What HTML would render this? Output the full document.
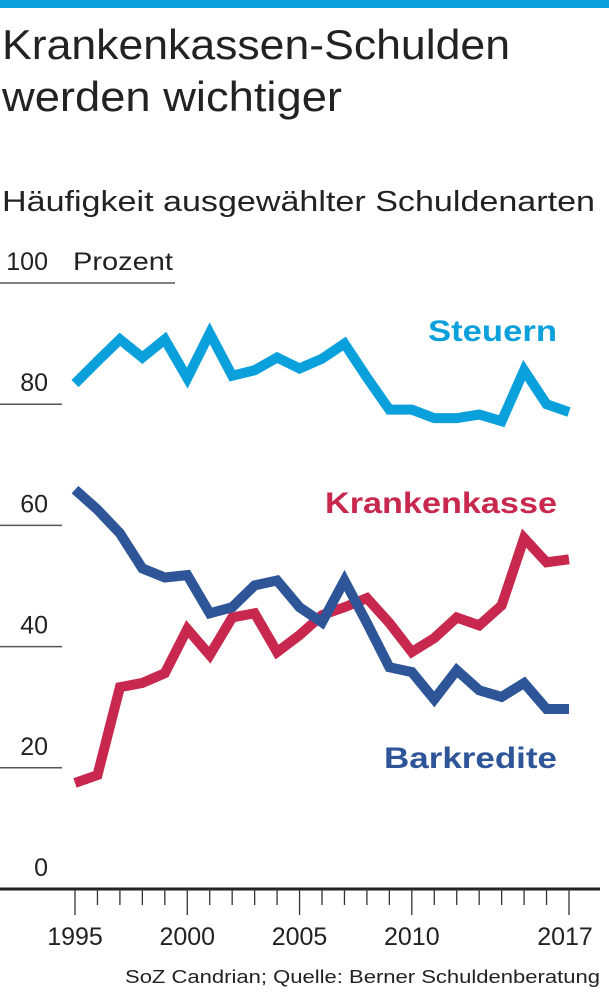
<!DOCTYPE html>
<html><head><meta charset="utf-8"><style>
body{margin:0;background:#fff;width:609px;height:994px;overflow:hidden;font-family:"Liberation Sans",sans-serif;}
</style></head><body>
<svg width="609" height="994" xmlns="http://www.w3.org/2000/svg">
<rect x="0" y="0" width="609" height="8" fill="#0aa0dc"/>
<text x="2" y="59" font-size="42" fill="#222" textLength="508" lengthAdjust="spacingAndGlyphs">Krankenkassen-Schulden</text>
<text x="2" y="111" font-size="42" fill="#222" textLength="340" lengthAdjust="spacingAndGlyphs">werden wichtiger</text>
<text x="2" y="211" font-size="29" fill="#222" textLength="593" lengthAdjust="spacingAndGlyphs">Häufigkeit ausgewählter Schuldenarten</text>
<g id="grid"></g>
<g id="lines"></g>
<text x="557" y="341" font-size="30" font-weight="bold" fill="#0aa0dc" text-anchor="end" textLength="129" lengthAdjust="spacingAndGlyphs">Steuern</text>
<text x="557" y="513" font-size="30" font-weight="bold" fill="#c8284e" text-anchor="end" textLength="232" lengthAdjust="spacingAndGlyphs">Krankenkasse</text>
<text x="557" y="768" font-size="30" font-weight="bold" fill="#2d5597" text-anchor="end" textLength="173" lengthAdjust="spacingAndGlyphs">Barkredite</text>
<text x="600" y="983" font-size="18" fill="#222" text-anchor="end" textLength="475" lengthAdjust="spacingAndGlyphs">SoZ Candrian; Quelle: Berner Schuldenberatung</text>
</svg>
<script>
const years=[1995,1996,1997,1998,1999,2000,2001,2002,2003,2004,2005,2006,2007,2008,2009,2010,2011,2012,2013,2014,2015,2016,2017];
const steuern=[83.4,87.1,90.7,87.7,90.7,84.3,91.7,84.7,85.6,87.7,85.9,87.5,90,84.4,79.1,79.1,77.7,77.7,78.3,77.2,85.6,80,78.7];
const krankenkasse=[17.5,18.8,33.3,34,35.6,42.9,38.6,44.8,45.5,39.1,41.9,45.2,46.5,48,43.9,39.1,41.4,44.8,43.5,46.8,57.9,53.9,54.4];
const barkredite=[65.9,62.6,58.7,52.9,51.4,51.8,45.5,46.5,50.1,50.9,46.5,44,50.9,43.9,36.6,35.8,31.3,36.1,32.8,31.7,34,29.7,29.7];
const yTicks=[0,20,40,60,80,100];
const xLabels=[1995,2000,2005,2010,2017];
const NS="http://www.w3.org/2000/svg";
const x=v=>75+(v-1995)*(569-75)/22;
const y=v=>889-v*6.06;
function mk(tag,attrs,parent){const e=document.createElementNS(NS,tag);for(const k in attrs)e.setAttribute(k,attrs[k]);parent.appendChild(e);return e;}
const grid=document.getElementById('grid'),lines=document.getElementById('lines');
yTicks.forEach(t=>{
  if(t>0){const l=mk('line',{x1:0,x2:t===100?175:62,y1:y(t),y2:y(t),stroke:'#555','stroke-width':1.5},grid);
  
  }
  const tx=mk('text',{x:48,y:y(t)-13,'font-size':25,fill:'#222','text-anchor':'end'},grid);
  tx.textContent=t;
  
  
});
const unit=mk('text',{x:73,y:y(100)-13,'font-size':25,fill:'#222',textLength:100,lengthAdjust:'spacingAndGlyphs'},grid);
unit.textContent='Prozent';


const ax=mk('line',{x1:0,x2:600,y1:889,y2:889,stroke:'#222','stroke-width':3},grid);


years.forEach(yr=>{
  const major=xLabels.includes(yr);
  const t=mk('line',{x1:x(yr),x2:x(yr),y1:889,y2:major?915:905,stroke:'#333','stroke-width':1.3},grid);
  
  
});
xLabels.forEach(yr=>{
  const t=mk('text',{x:yr===2017?x(yr)-4:x(yr),y:945,'font-size':25,fill:'#222','text-anchor':'middle'},grid);
  t.textContent=yr;
  
  
});
function series(vals,color,name){
  const p=mk('polyline',{points:vals.map((v,i)=>x(years[i])+','+y(v)).join(' '),fill:'none',stroke:color,'stroke-width':10,'stroke-linejoin':'miter','stroke-linecap':'butt'},lines);
  
  
}
series(steuern,'#0aa0dc','line-steuern');
series(krankenkasse,'#c8284e','line-krankenkasse');
series(barkredite,'#2d5597','line-barkredite');
</script>
</body></html>
